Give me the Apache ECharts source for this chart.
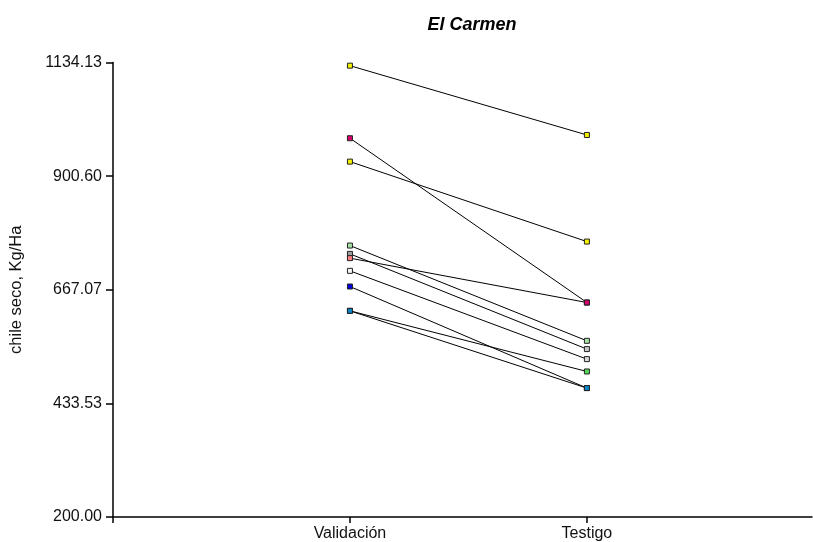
<!DOCTYPE html>
<html>
<head>
<meta charset="utf-8">
<script src="https://cdn.jsdelivr.net/npm/echarts@6/dist/echarts.min.js"></script>
<style>
  html, body { margin: 0; padding: 0; background: #fff; }
  #chart { width: 813px; height: 542px; }
</style>
</head>
<body>
<div id="chart"></div>
<script>
// Paired yields (chile seco, Kg/Ha) for each plot: validation vs. control
const categories = ['Validación', 'Testigo'];
const validacion = [1127.6, 978.5, 930.4, 757.9, 740.8, 732.0, 705.9, 673.7, 623.7, 623.7];
const testigo    = [985.2, 640.8, 766.1, 562.1, 545.1, 640.8, 524.5, 465.0, 499.1, 465.0];
const yTickLabels = ['200.00', '433.53', '667.07', '900.60', '1134.13'];

// Marker fill colours at each end of every pair
const colorValidacion = ['#f2f200', '#d8006c', '#f2f200', '#a8e0a8', '#a0a0a0', '#ff8080', '#f4f4f4', '#0000e0', '#0a84c8', '#0a84c8'];
const colorTestigo    = ['#f2f200', '#d8006c', '#f2f200', '#a8e0a8', '#c8c8c8', '#d8006c', '#d8d8d8', '#0a84c8', '#58d858', '#0a84c8'];

const yMin = 200, yMax = 1134.13, yStep = (yMax - yMin) / 4;
const FONT = 'Liberation Sans, Arial, sans-serif';

const series = validacion.map((v, i) => ({
  type: 'line',
  data: [
    { value: [1, v], itemStyle: { color: colorValidacion[i] } },
    { value: [2, testigo[i]], itemStyle: { color: colorTestigo[i] } }
  ],
  symbol: 'rect',
  symbolSize: 5,
  showSymbol: true,
  itemStyle: { borderColor: '#222', borderWidth: 1 },
  lineStyle: { color: '#000', width: 1 },
  emphasis: { disabled: true },
  animation: false,
  z: 2 + i
}));

const chart = echarts.init(document.getElementById('chart'), null, { renderer: 'canvas' });
chart.setOption({
  backgroundColor: '#fff',
  animation: false,
  title: {
    text: 'El Carmen',
    left: 467,
    top: 11,
    textAlign: 'center',
    textStyle: { fontFamily: FONT, fontSize: 18, fontWeight: 'bold', fontStyle: 'italic', color: '#000' }
  },
  grid: { left: 111.5, right: 1, top: 62.5, bottom: 24.7, containLabel: false },
  xAxis: {
    type: 'value',
    min: 0,
    max: 2.95,
    interval: 1,
    splitLine: { show: false },
    axisLine: { show: true, lineStyle: { color: '#000', width: 1.5 } },
    axisTick: { show: true, length: 6, lineStyle: { color: '#000', width: 1.5 } },
    axisLabel: {
      margin: 9,
      fontFamily: FONT,
      fontSize: 16,
      color: '#111',
      showMaxLabel: false,
      formatter: v => (v >= 1 && v <= categories.length && Number.isInteger(v)) ? categories[v - 1] : ''
    }
  },
  yAxis: {
    type: 'value',
    min: yMin,
    max: yMax,
    interval: yStep,
    name: 'chile seco, Kg/Ha',
    nameLocation: 'middle',
    nameGap: 88,
    nameRotate: 90,
    nameTextStyle: { fontFamily: FONT, fontSize: 16.5, color: '#111' },
    splitLine: { show: false },
    axisLine: { show: true, lineStyle: { color: '#000', width: 1.5 } },
    axisTick: { show: true, length: 7, lineStyle: { color: '#000', width: 1.5 } },
    axisLabel: {
      margin: 11,
      fontFamily: FONT,
      fontSize: 16,
      color: '#111',
      formatter: v => yTickLabels[Math.round((v - yMin) / yStep)] || ''
    }
  },
  series: series
});
</script>
</body>
</html>
